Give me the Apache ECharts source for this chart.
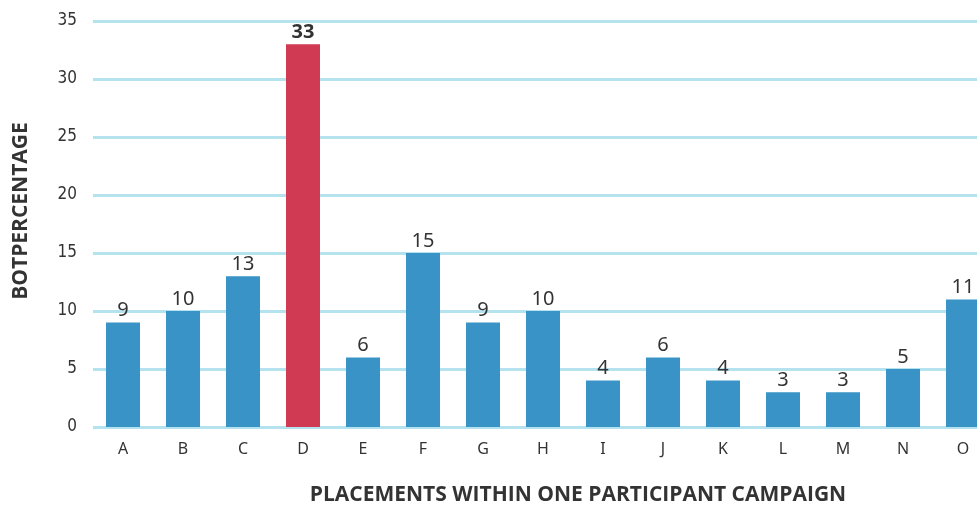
<!DOCTYPE html>
<html>
<head>
<meta charset="utf-8">
<script src="https://cdn.jsdelivr.net/npm/echarts@6/dist/echarts.min.js"></script>
<style>
  html, body { margin: 0; padding: 0; background: #ffffff; }
  #chart { width: 977px; height: 506px; }
</style>
</head>
<body>
<div id="chart"></div>
<script>
// Placement categories and bot percentages
const categories = ['A', 'B', 'C', 'D', 'E', 'F', 'G', 'H', 'I', 'J', 'K', 'L', 'M', 'N', 'O'];
const botPercent = [9, 10, 13, 33, 6, 15, 9, 10, 4, 6, 4, 3, 3, 5, 11];
const highlighted = ['D'];
const yTicks = [0, 5, 10, 15, 20, 25, 30, 35];

const BLUE = '#3a93c6';
const RED = '#d03a52';

const seriesData = botPercent.map((v, i) => {
  const hot = highlighted.includes(categories[i]);
  return {
    value: v,
    itemStyle: { color: hot ? RED : BLUE },
    label: hot ? { fontWeight: 'bold', fontFamily: 'Open Sans', fontSize: 20 } : {}
  };
});

const chart = echarts.init(document.getElementById('chart'), null, { renderer: 'canvas' });
chart.setOption({
  animation: false,
  backgroundColor: '#ffffff',
  // the plot runs past the right edge, so the last bar is cut off
  grid: {
    left: 93, width: 900, top: 21, bottom: 79,
    containLabel: false,
    outerBoundsMode: 'none'
  },
  xAxis: {
    type: 'category',
    data: categories,
    axisLine: { show: false },
    axisTick: { show: false },
    axisLabel: {
      margin: 14,
      fontFamily: 'Noto Sans',
      fontSize: 16,
      color: '#333333'
    }
  },
  yAxis: {
    type: 'value',
    min: yTicks[0],
    max: yTicks[yTicks.length - 1],
    interval: yTicks[1] - yTicks[0],
    axisLine: { show: false },
    axisTick: { show: false },
    axisLabel: {
      margin: 16,
      fontFamily: '"DejaVu Sans Condensed", "Liberation Sans Narrow", sans-serif',
      fontSize: 17,
      color: '#333333'
    },
    splitLine: { lineStyle: { color: '#b5e2ef', width: 3 } }
  },
  graphic: [
    {
      type: 'text',
      style: {
        text: 'BOTPERCENTAGE',
        font: 'bold 21px "Open Sans"',
        fill: '#333333',
        textAlign: 'center',
        textVerticalAlign: 'middle'
      },
      rotation: Math.PI / 2,
      x: 21, y: 211
    },
    {
      type: 'text',
      style: {
        text: 'PLACEMENTS WITHIN ONE PARTICIPANT CAMPAIGN',
        font: 'bold 21px "Open Sans"',
        fill: '#333333',
        textAlign: 'center',
        textVerticalAlign: 'middle'
      },
      x: 578, y: 495
    }
  ],
  series: [{
    type: 'bar',
    data: seriesData,
    barWidth: 34,
    label: {
      show: true,
      position: 'top',
      distance: 2,
      fontFamily: 'Noto Sans',
      fontSize: 20,
      color: '#333333'
    }
  }]
});
</script>
</body>
</html>
